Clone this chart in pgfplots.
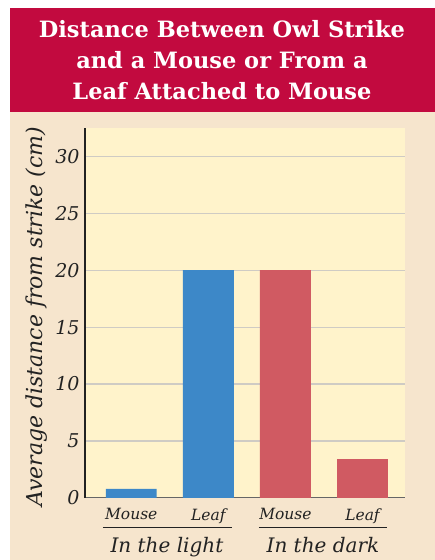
\documentclass[border=0pt]{standalone}
\usepackage{pgfplots}
\pgfplotsset{compat=1.18}
\usepackage{fontspec}
\setmainfont{DejaVu Serif}
\definecolor{titlered}{HTML}{C20A3F}
\definecolor{panel}{HTML}{F6E5CD}
\definecolor{plotbg}{HTML}{FFF3CB}
\definecolor{barblue}{HTML}{3D88C8}
\definecolor{barred}{HTML}{D05A62}
\definecolor{gridc}{HTML}{CFCBC4}
\definecolor{txt}{HTML}{222222}
\begin{document}
\begin{tikzpicture}[x=1bp,y=1bp]
\fill[white] (0,0) rectangle (435,560);
\fill[panel] (10,0) rectangle (435,552);
\fill[titlered] (10,448) rectangle (435,552);
\node[align=center,text=white,font=\fontsize{22.5bp}{31bp}\selectfont\bfseries] at (222,500)
 {Distance Between Owl Strike\\and a Mouse or From a\\Leaf Attached to Mouse};
\begin{axis}[
  at={(85bp,62bp)}, anchor=south west,
  scale only axis, width=320bp, height=370bp,
  xmin=-0.6, xmax=3.55, ymin=0, ymax=32.5,
  axis x line=bottom, axis y line=left,
  axis line style={-, line width=1.2pt},
  x axis line style={draw=black!60},
  y axis line style={draw=txt},
  axis background/.style={fill=plotbg},
  ytick={0,5,...,30},
  ymajorgrids, grid style={gridc, line width=1.2pt},
  major tick length=0pt,
  xtick={0,1,2,3},
  xticklabels={Mouse,Leaf,Mouse,Leaf},
  x tick label style={font=\fontsize{15.5bp}{17bp}\selectfont\itshape, text=txt, yshift=-7bp},
  y tick label style={font=\fontsize{19bp}{20bp}\selectfont\itshape, text=txt, xshift=-2bp},
  /pgf/number format/assume math mode=true,
  ylabel={Average distance from strike (cm)},
  ylabel style={font=\fontsize{22bp}{24bp}\selectfont\itshape, text=txt, at={(ticklabel cs:0.5)}, xshift=-4bp, yshift=1bp},
  ybar, bar width=0.66, bar shift=0pt,
  clip=false,
]
\addplot[fill=barblue, draw=none] coordinates {(0,0.8) (1,20)};
\addplot[fill=barred, draw=none] coordinates {(2,20) (3,3.4)};
\end{axis}
\draw[txt, line width=1pt] (103,32) -- (232,32);
\draw[txt, line width=1pt] (259,32) -- (387,32);
\node[font=\fontsize{20bp}{22bp}\selectfont\itshape, text=txt] at (167,13) {In the light};
\node[font=\fontsize{20bp}{22bp}\selectfont\itshape, text=txt] at (323,15) {In the dark};
\end{tikzpicture}
\end{document}
